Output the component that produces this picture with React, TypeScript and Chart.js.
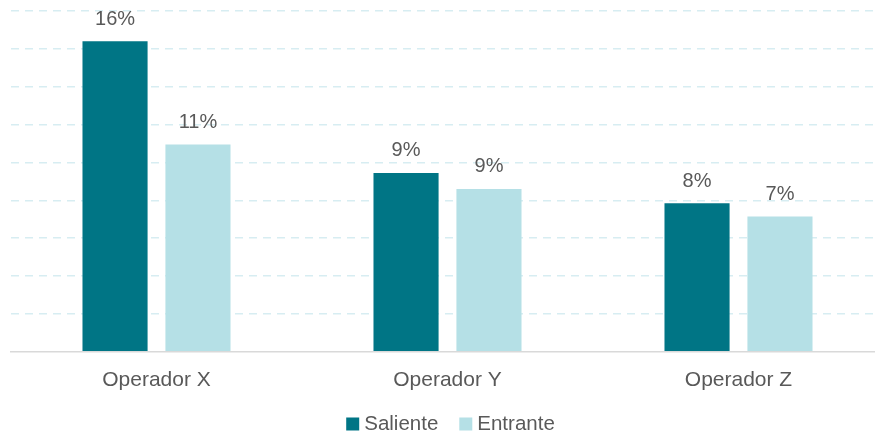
import React, { useEffect, useRef } from "react";
import { Chart, registerables } from "chart.js";

Chart.register(...registerables);

const categories = ["Operador X", "Operador Y", "Operador Z"];
const salienteValues = [16.4, 9.45, 7.85];
const entranteValues = [10.95, 8.6, 7.15];
const seriesNames = ["Saliente", "Entrante"];
const seriesColors = ["#007585", "#b5e0e6"];
const yTicks = { min: 0, max: 18, step: 2 };

const FONT = "'Liberation Sans', Arial, sans-serif";
const TEXT = "#595959";

const valueLabels = {
  id: "valueLabels",
  afterDatasetsDraw(chart: any) {
    const ctx = chart.ctx;
    ctx.save();
    ctx.font = `20px ${FONT}`;
    ctx.fillStyle = TEXT;
    ctx.textAlign = "center";
    ctx.textBaseline = "middle";
    chart.data.datasets.forEach((ds: any, di: number) => {
      const meta = chart.getDatasetMeta(di);
      meta.data.forEach((bar: any, i: number) => {
        const v = ds.data[i] as number;
        ctx.fillText(`${Math.round(v)}%`, bar.x, bar.y - 22);
      });
    });
    ctx.restore();
  },
};

const customLegend = {
  id: "customLegend",
  afterDraw(chart: any) {
    const ctx = chart.ctx;
    ctx.save();
    ctx.font = `20.5px ${FONT}`;
    ctx.textBaseline = "middle";
    ctx.textAlign = "left";
    const box = 13;
    const gapBoxText = 5;
    const gapItems = 21;
    const items = chart.data.datasets.map((ds: any) => ({
      label: ds.label as string,
      color: ds.backgroundColor as string,
      w: ctx.measureText(ds.label).width,
    }));
    const total = items.reduce(
      (s: number, it: any, i: number) => s + box + gapBoxText + it.w + (i > 0 ? gapItems : 0),
      0
    );
    const cx = (chart.chartArea.left + chart.chartArea.right) / 2 + 3;
    const cy = chart.height - 12;
    let x = cx - total / 2;
    items.forEach((it: any, i: number) => {
      if (i > 0) x += gapItems;
      ctx.fillStyle = it.color;
      ctx.fillRect(x, cy - box / 2, box, box);
      x += box + gapBoxText;
      ctx.fillStyle = TEXT;
      ctx.fillText(it.label, x, cy);
      x += it.w;
    });
    ctx.restore();
  },
};

export default function App() {
  const ref = useRef<HTMLCanvasElement | null>(null);
  useEffect(() => {
    document.body.style.margin = "0";
    document.body.style.overflow = "hidden";
    const canvas = ref.current!;
    const chart = new Chart(canvas, {
      type: "bar",
      data: {
        labels: categories,
        datasets: [
          {
            label: seriesNames[0],
            data: salienteValues,
            backgroundColor: seriesColors[0],
            categoryPercentage: 0.57,
            barPercentage: 0.785,
          },
          {
            label: seriesNames[1],
            data: entranteValues,
            backgroundColor: seriesColors[1],
            categoryPercentage: 0.57,
            barPercentage: 0.785,
          },
        ],
      },
      options: {
        animation: false,
        responsive: false,
        maintainAspectRatio: false,
        layout: { padding: { left: 11, right: 0, top: 11, bottom: 27 } },
        plugins: {
          legend: { display: false },
          tooltip: { enabled: false },
        },
        scales: {
          x: {
            grid: { display: false, drawTicks: false },
            border: { color: "#d9d9d9", width: 1.5 },
            ticks: { font: { family: FONT, size: 21 }, color: TEXT, padding: 16 },
          },
          y: {
            min: yTicks.min,
            max: yTicks.max,
            ticks: { stepSize: yTicks.step, display: false },
            border: { display: false, dash: [8, 6] },
            grid: {
              color: (c: any) => (c.tick && c.tick.value === 0 ? "rgba(0,0,0,0)" : "#d7edf2"),
              lineWidth: 1.5,
              drawTicks: false,
            },
          },
        },
      },
      plugins: [valueLabels, customLegend],
    } as any);
    return () => chart.destroy();
  }, []);
  return <canvas ref={ref} width={884} height={436} style={{ display: "block" }} />;
}
